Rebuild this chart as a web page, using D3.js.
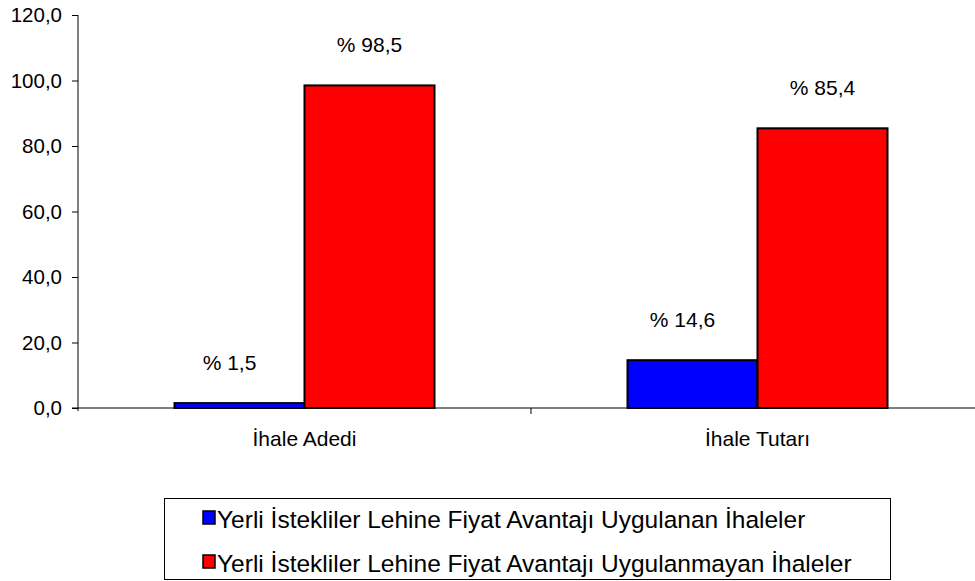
<!DOCTYPE html>
<html>
<head>
<meta charset="utf-8">
<script src="https://cdn.jsdelivr.net/npm/d3@7"></script>
<style>
  body { margin: 0; background: #fff; }
  svg { display: block; font-family: "Liberation Sans", Arial, sans-serif; }
  .axis text { fill: #000; }
  .axis path, .axis line { stroke: #000; }
</style>
</head>
<body>
<svg class="chart"></svg>
<script>
var categories = ["İhale Adedi", "İhale Tutarı"];
var seriesNames = ["Yerli İstekliler Lehine Fiyat Avantajı Uygulanan İhaleler",
                   "Yerli İstekliler Lehine Fiyat Avantajı Uygulanmayan İhaleler"];
var uygulanan = [1.5, 14.6];
var uygulanmayan = [98.5, 85.4];
var colors = ["#0000ff", "#ff0000"];
var yTicks = [0, 20, 40, 60, 80, 100, 120];

var width = 975, height = 581;
var svg = d3.select(".chart").attr("width", width).attr("height", height);

var x = d3.scaleBand()
  .domain(categories)
  .range([78, 984]);

var y = d3.scaleLinear()
  .domain([0, 120])
  .range([408, 15]);

var fmt = function(v) { return d3.format(".1f")(v).replace(".", ","); };

// y axis
svg.append("g")
  .attr("class", "axis")
  .attr("transform", "translate(78,0)")
  .call(d3.axisLeft(y).tickValues(yTicks).tickSize(6).tickPadding(10).tickFormat(fmt))
  .attr("font-family", "Liberation Sans, Arial, sans-serif")
  .attr("font-size", 20.5)
  .call(function(g) {
    g.select(".domain").attr("d", "M0,15V411");
  });

// x axis
var xAxis = svg.append("g")
  .attr("class", "axis")
  .attr("transform", "translate(0,408)");
xAxis.append("line").attr("x1", 72).attr("x2", 984).attr("stroke", "#000");
xAxis.selectAll(".xtick")
  .data([x.range()[0] + x.bandwidth()])
  .enter().append("line")
  .attr("x1", function(d) { return d; })
  .attr("x2", function(d) { return d; })
  .attr("y1", 0).attr("y2", 6)
  .attr("stroke", "#000");
xAxis.selectAll("text")
  .data(categories)
  .enter().append("text")
  .attr("x", function(d) { return x(d) + x.bandwidth() / 2; })
  .attr("y", 38)
  .attr("text-anchor", "middle")
  .style("font-size", "21px")
  .text(function(d) { return d; });

var sub = d3.scaleBand()
  .domain([0, 1])
  .range([0, 260]);
var groupOffset = (x.bandwidth() - 260) / 2;

var data = [];
categories.forEach(function(c, i) {
  data.push({cat: c, s: 0, v: uygulanan[i]});
  data.push({cat: c, s: 1, v: uygulanmayan[i]});
});

svg.selectAll(".bar")
  .data(data)
  .enter().append("rect")
  .attr("class", "bar")
  .attr("x", function(d) { return x(d.cat) + groupOffset + sub(d.s); })
  .attr("y", function(d) { return y(d.v); })
  .attr("width", sub.bandwidth())
  .attr("height", function(d) { return y(0) - y(d.v); })
  .attr("fill", function(d) { return colors[d.s]; })
  .attr("stroke", "#000")
  .attr("stroke-width", 2);

svg.selectAll(".lbl")
  .data(data)
  .enter().append("text")
  .attr("class", "lbl")
  .attr("x", function(d) { return x(d.cat) + groupOffset + sub(d.s) + sub.bandwidth() / 2 - (d.s === 0 ? 10 : 0); })
  .attr("y", function(d) { return y(d.v) - 33; })
  .attr("text-anchor", "middle")
  .style("font-size", "21px")
  .text(function(d) { return "% " + fmt(d.v); });

// legend
var legend = svg.append("g");
legend.append("rect")
  .attr("x", 164.5).attr("y", 498.5)
  .attr("width", 726).attr("height", 81)
  .attr("fill", "#fff").attr("stroke", "#000");

var items = legend.selectAll(".item")
  .data(seriesNames)
  .enter().append("g")
  .attr("transform", function(d, i) { return "translate(203," + (511 + i * 44) + ")"; });
items.append("rect")
  .attr("width", 12).attr("height", 13)
  .attr("fill", function(d, i) { return colors[i]; })
  .attr("stroke", "#000").attr("stroke-width", 1.5);
items.append("text")
  .attr("x", 14).attr("y", 17)
  .style("font-size", "24.5px")
  .text(function(d) { return d; });
</script>
</body>
</html>
